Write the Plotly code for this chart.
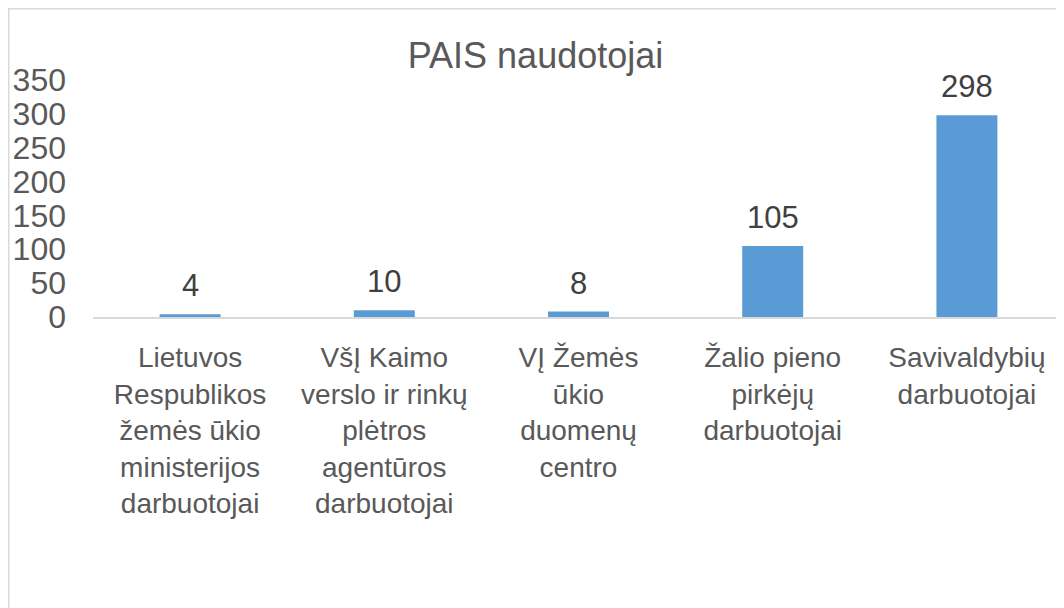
import plotly.graph_objects as go

categories = [
    "Lietuvos<br>Respublikos<br>žemės ūkio<br>ministerijos<br>darbuotojai",
    "VšĮ Kaimo<br>verslo ir rinkų<br>plėtros<br>agentūros<br>darbuotojai",
    "VĮ Žemės<br>ūkio<br>duomenų<br>centro",
    "Žalio pieno<br>pirkėjų<br>darbuotojai",
    "Savivaldybių<br>darbuotojai",
]
values = [4, 10, 8, 105, 298]
y_ticks = [0, 50, 100, 150, 200, 250, 300, 350]

# page body has an 8px margin, so the figure starts at (8, 8) on screen
W, H = 1056, 600
L, R, T, B = 85, 0, 72, 291
pw, ph = W - L - R, H - T - B


def px_x(p):
    return (p - L) / pw


def px_y(p):
    return (H - B - p) / ph


FONT = "Liberation Sans, Arial, sans-serif"

fig = go.Figure(
    go.Bar(
        x=categories,
        y=values,
        marker=dict(color="#5B9BD5", line=dict(width=0)),
        hoverinfo="x+y",
    )
)

for c, v in zip(categories, values):
    fig.add_annotation(
        x=c,
        y=v,
        text=str(v),
        showarrow=False,
        yanchor="bottom",
        yshift=9,
        font=dict(size=31, color="#404040", family=FONT),
    )

fig.update_layout(
    width=W,
    height=H,
    margin=dict(l=L, r=R, t=T, b=B),
    paper_bgcolor="white",
    plot_bgcolor="white",
    bargap=0.686,
    showlegend=False,
    font=dict(family=FONT, color="#595959"),
    title=dict(
        text="PAIS naudotojai",
        x=527.5 / W,
        xref="container",
        xanchor="center",
        y=1 - 47 / H,
        yref="container",
        yanchor="middle",
        font=dict(size=36, color="#595959", family=FONT),
    ),
    xaxis=dict(
        showline=True,
        linecolor="#D9D9D9",
        linewidth=1.5,
        showgrid=False,
        ticks="",
        tickfont=dict(size=28, color="#595959", family=FONT),
        ticklabelstandoff=15,
    ),
    yaxis=dict(
        range=[0, 350],
        tickvals=y_ticks,
        showgrid=False,
        zeroline=False,
        showline=False,
        ticks="",
        tickfont=dict(size=32, color="#595959", family=FONT),
        ticklabelstandoff=26,
    ),
    shapes=[
        dict(
            type="rect",
            xref="paper",
            yref="paper",
            x0=px_x(0.75),
            x1=px_x(1100),
            y0=px_y(640),
            y1=px_y(0.75),
            line=dict(color="#D9D9D9", width=1.5),
            fillcolor="rgba(0,0,0,0)",
            layer="below",
        )
    ],
)

fig.write_html("out.html")
